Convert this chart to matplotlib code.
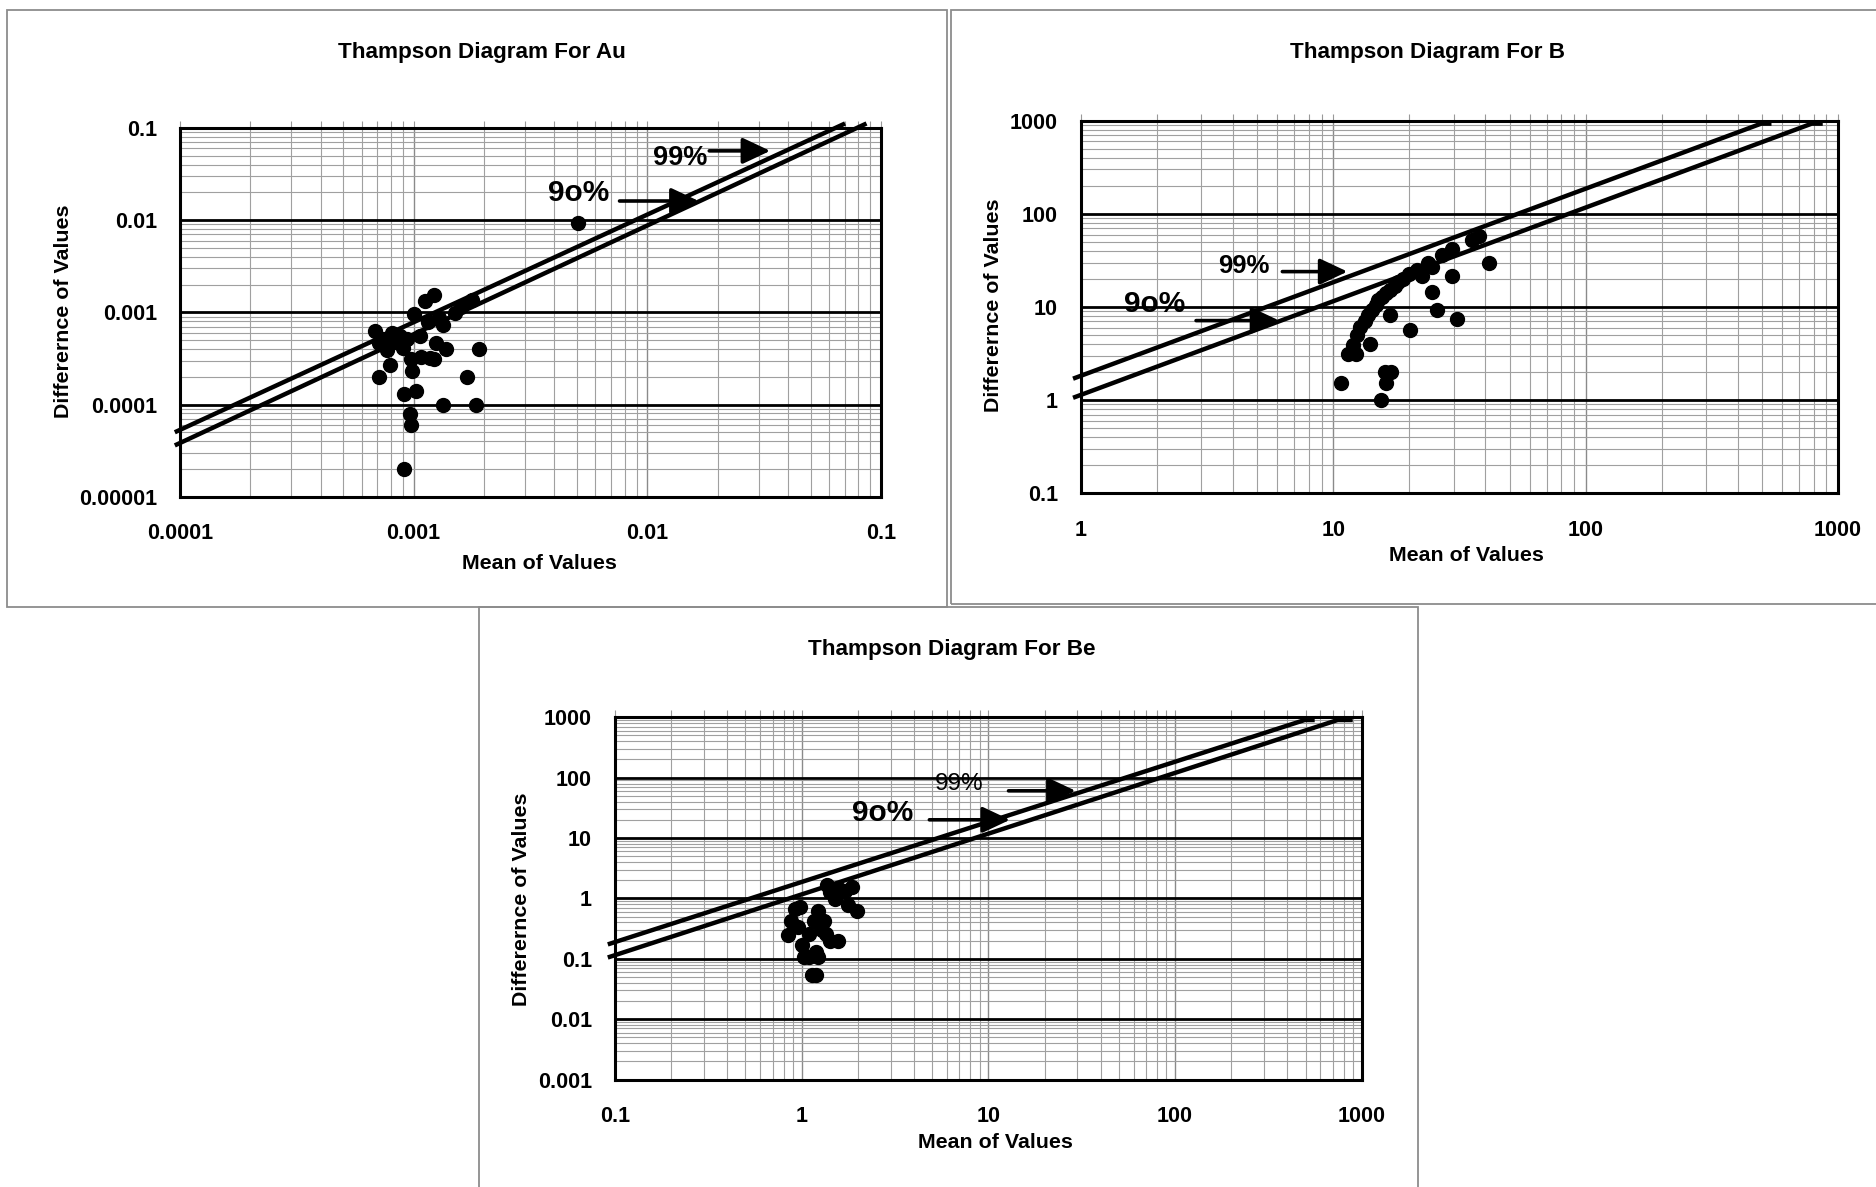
import numpy as np
import matplotlib
matplotlib.use("Agg")
import matplotlib.pyplot as plt
from matplotlib.ticker import LogLocator, FixedLocator, FixedFormatter, NullFormatter
from matplotlib.patches import Rectangle

plt.rcParams['font.family'] = ['Liberation Sans', 'DejaVu Sans']
plt.rcParams['font.weight'] = 'bold'

W, H = 1876, 1187

# ---------------- Data ----------------
# Au panel
au_mean = [6.8e-4, 7.1e-4, 7.1e-4, 7.7e-4, 7.9e-4, 8.1e-4, 8.4e-4, 8.96e-4, 9.4e-4, 1.0e-3,
           9.7e-4, 9.8e-4, 9.1e-4, 1.02e-3, 9.6e-4, 9.7e-4, 9.1e-4, 1.12e-3, 1.22e-3, 1.08e-3,
           1.22e-3, 1.25e-3, 1.34e-3, 1.37e-3, 1.34e-3, 1.28e-3, 1.15e-3, 1.06e-3, 1.5e-3, 1.6e-3,
           1.77e-3, 1.69e-3, 1.84e-3, 1.9e-3, 5.07e-3, 7.4e-4, 8.7e-4, 1.18e-3]
au_diff = [6.3e-4, 4.7e-4, 2.0e-4, 3.9e-4, 2.7e-4, 5.9e-4, 4.8e-4, 4.1e-4, 5.1e-4, 9.5e-4,
           3.1e-4, 2.3e-4, 1.3e-4, 1.4e-4, 7.9e-5, 6.0e-5, 2.0e-5, 1.33e-3, 1.55e-3, 3.3e-4,
           3.1e-4, 4.7e-4, 7.3e-4, 4.0e-4, 1.0e-4, 8.7e-4, 7.9e-4, 5.6e-4, 9.9e-4, 1.15e-3,
           1.37e-3, 2.0e-4, 1.0e-4, 4.0e-4, 9.35e-3, 5.2e-4, 5.5e-4, 3.2e-4]
au_line_x99 = [9.5e-5, 0.0702]
au_line_y99 = [5.0e-5, 0.112]
au_line_x90 = [9.5e-5, 0.0867]
au_line_y90 = [3.6e-5, 0.112]

# B panel
b_mean = [10.7, 11.4, 12.3, 12.0, 12.4, 12.8, 13.3, 13.7, 14.2, 14.7, 15.1, 15.6, 16.2, 16.7,
          17.5, 18.0, 18.8, 19.9, 21.5, 22.4, 23.7, 24.6, 27.0, 29.5, 35.4, 37.9, 41.3, 29.5,
          24.7, 25.8, 30.8, 20.1, 16.7, 14.0, 16.0, 16.9, 16.2, 15.5]
b_diff = [1.52, 3.1, 3.1, 3.9, 4.98, 6.1, 7.1, 8.2, 9.3, 10.4, 11.8, 12.9, 14.1, 15.4,
          16.8, 18.4, 20.2, 22.6, 24.7, 21.3, 29.5, 27.0, 36.3, 42.0, 53.0, 58.0, 29.5, 21.3,
          14.5, 9.3, 7.5, 5.6, 8.2, 4.05, 2.0, 2.0, 1.52, 1.0]
b_line_x99 = [0.93, 496, 545]
b_line_y99 = [1.7, 930, 930]
b_line_x90 = [0.93, 787, 870]
b_line_y90 = [1.06, 930, 930]

# Be panel
be_mean = [0.84, 0.88, 0.92, 0.98, 0.95, 1.0, 1.03, 1.1, 1.13, 1.2, 1.23, 1.1, 1.16, 1.23,
           1.31, 1.35, 1.41, 1.56, 1.37, 1.41, 1.5, 1.58, 1.71, 1.76, 1.87, 1.98, 1.2, 1.28]
be_diff = [0.25, 0.43, 0.68, 0.72, 0.33, 0.17, 0.105, 0.105, 0.053, 0.053, 0.105, 0.26, 0.43, 0.62,
           0.43, 0.26, 0.2, 0.2, 1.69, 1.29, 0.98, 1.41, 1.35, 0.78, 1.54, 0.62, 0.13, 0.3]
be_line_x99 = [0.0915, 495, 560]
be_line_y99 = [0.173, 902, 902]
be_line_x90 = [0.0915, 743, 895]
be_line_y90 = [0.105, 902, 902]

au_xticks = [1e-4, 1e-3, 1e-2, 1e-1]
au_xlabels = ['0.0001', '0.001', '0.01', '0.1']
au_yticks = [1e-5, 1e-4, 1e-3, 1e-2, 1e-1]
au_ylabels = ['0.00001', '0.0001', '0.001', '0.01', '0.1']
b_xticks = [1, 10, 100, 1000]
b_xlabels = ['1', '10', '100', '1000']
b_yticks = [0.1, 1, 10, 100, 1000]
b_ylabels = ['0.1', '1', '10', '100', '1000']
be_xticks = [0.1, 1, 10, 100, 1000]
be_xlabels = ['0.1', '1', '10', '100', '1000']
be_yticks = [0.001, 0.01, 0.1, 1, 10, 100, 1000]
be_ylabels = ['0.001', '0.01', '0.1', '1', '10', '100', '1000']

titles = ['Thampson Diagram For Au', 'Thampson Diagram For B', 'Thampson Diagram For Be']

# ---------------- Figure ----------------
fig = plt.figure(figsize=(W / 100, H / 100), dpi=100)


def fx(x):
    return x / W


def fy(y):
    return 1 - y / H


# panel frames
for (x0, y0, x1, y1) in [(7, 10, 946.5, 606.7), (950.5, 10, 1885, 604), (478.7, 606.7, 1418, 1195)]:
    fig.patches.append(Rectangle((fx(x0), fy(y1)), fx(x1 - x0), (y1 - y0) / H,
                                 transform=fig.transFigure, fill=False,
                                 edgecolor='#8c8c8c', lw=1.3, zorder=0))


def make_axes(box, xlim, ylim, xticks, xlabels, yticks, ylabels):
    x0, y0, x1, y1 = box
    ax = fig.add_axes([fx(x0), fy(y1), fx(x1 - x0), (y1 - y0) / H])
    ax.set_xscale('log')
    ax.set_yscale('log')
    ax.set_xlim(*xlim)
    ax.set_ylim(*ylim)
    ax.xaxis.set_major_locator(FixedLocator(xticks))
    ax.xaxis.set_major_formatter(FixedFormatter(xlabels))
    ax.yaxis.set_major_locator(FixedLocator(yticks))
    ax.yaxis.set_major_formatter(FixedFormatter(ylabels))
    ax.xaxis.set_minor_locator(LogLocator(base=10, subs=np.arange(2, 10), numticks=50))
    ax.yaxis.set_minor_locator(LogLocator(base=10, subs=np.arange(2, 10), numticks=50))
    ax.xaxis.set_minor_formatter(NullFormatter())
    ax.yaxis.set_minor_formatter(NullFormatter())
    ax.grid(True, which='minor', axis='both', color='#a0a0a0', lw=0.8)
    ax.grid(True, which='major', axis='x', color='#8a8a8a', lw=1.0)
    ax.grid(True, which='major', axis='y', color='black', lw=2.0)
    ax.set_axisbelow(True)
    ax.tick_params(axis='x', which='both', bottom=False, top=True, direction='out',
                   length=5, color='#999999', width=0.8, labelbottom=True, labeltop=False,
                   pad=14, labelsize=15.5)
    ax.tick_params(axis='y', which='both', left=False, right=False, pad=13, labelsize=15.5)
    for lab in ax.get_xticklabels() + ax.get_yticklabels():
        lab.set_fontweight('bold')
    for sp in ax.spines.values():
        sp.set_linewidth(2.2)
        sp.set_color('black')
    return ax


def draw_lines(ax, lx99, ly99, lx90, ly90):
    ax.plot(lx99, ly99, color='black', lw=3.2, clip_on=False, solid_capstyle='butt', zorder=4)
    ax.plot(lx90, ly90, color='black', lw=3.2, clip_on=False, solid_capstyle='butt', zorder=4)


def arrow(ax, x0, x1, y):
    ax.annotate('', xy=(x1, y), xytext=(x0, y), xycoords='axes fraction',
                arrowprops=dict(arrowstyle='-|>,head_length=0.85,head_width=0.4',
                                lw=2.6, color='black', mutation_scale=20,
                                shrinkA=0, shrinkB=0), zorder=6)


# ---- Au ----
ax1 = make_axes((180, 128, 881, 496.7), (1e-4, 0.1), (1e-5, 0.1),
                au_xticks, au_xlabels, au_yticks, au_ylabels)
draw_lines(ax1, au_line_x99, au_line_y99, au_line_x90, au_line_y90)
ax1.scatter(au_mean, au_diff, s=100, color='black', zorder=5, clip_on=False)
ax1.text(0.713, 0.919, '99%', transform=ax1.transAxes, ha='center', va='center',
         fontsize=19.5, fontweight='bold')
arrow(ax1, 0.755, 0.842, 0.938)
ax1.text(0.568, 0.825, '9o%', transform=ax1.transAxes, ha='center', va='center',
         fontsize=21.5, fontweight='bold')
arrow(ax1, 0.627, 0.740, 0.802)

# ---- B ----
ax2 = make_axes((1081, 120.7, 1838, 493.3), (1, 1000), (0.1, 1000),
                b_xticks, b_xlabels, b_yticks, b_ylabels)
draw_lines(ax2, b_line_x99, b_line_y99, b_line_x90, b_line_y90)
ax2.scatter(b_mean, b_diff, s=100, color='black', zorder=5, clip_on=False)
ax2.text(0.2157, 0.611, '99%', transform=ax2.transAxes, ha='center', va='center',
         fontsize=18.5, fontweight='bold')
arrow(ax2, 0.266, 0.352, 0.595)
ax2.text(0.097, 0.508, '9o%', transform=ax2.transAxes, ha='center', va='center',
         fontsize=21.5, fontweight='bold')
arrow(ax2, 0.152, 0.262, 0.4635)

# ---- Be ----
ax3 = make_axes((615, 717.3, 1361.7, 1079.5), (0.1, 1000), (0.001, 1000),
                be_xticks, be_xlabels, be_yticks, be_ylabels)
draw_lines(ax3, be_line_x99, be_line_y99, be_line_x90, be_line_y90)
ax3.scatter(be_mean, be_diff, s=100, color='black', zorder=5, clip_on=False)
ax3.text(0.461, 0.817, '99%', transform=ax3.transAxes, ha='center', va='center',
         fontsize=17.5, fontweight='normal')
arrow(ax3, 0.527, 0.617, 0.797)
ax3.text(0.359, 0.737, '9o%', transform=ax3.transAxes, ha='center', va='center',
         fontsize=21.5, fontweight='bold')
arrow(ax3, 0.421, 0.529, 0.717)

# ---- Titles and axis labels ----
title_pos = [(482, 52.6), (1427, 52.6), (952, 649.6)]
xlabel_pos = [(539.6, 563.5), (1466.8, 556), (995.4, 1142.6)]
ylabel_pos = [(63.4, 311), (993, 305), (521.6, 899.7)]
for t, (tx, ty) in zip(titles, title_pos):
    fig.text(fx(tx), fy(ty), t, ha='center', va='center', fontsize=16.2, fontweight='bold')
for (lx, ly) in xlabel_pos:
    fig.text(fx(lx), fy(ly), 'Mean of Values', ha='center', va='center', fontsize=15.4,
             fontweight='bold')
for (lx, ly) in ylabel_pos:
    fig.text(fx(lx), fy(ly), 'Differernce of Values', ha='center', va='center', fontsize=15.4,
             fontweight='bold', rotation=90)

fig.savefig('out.png', dpi=100, facecolor='white')
